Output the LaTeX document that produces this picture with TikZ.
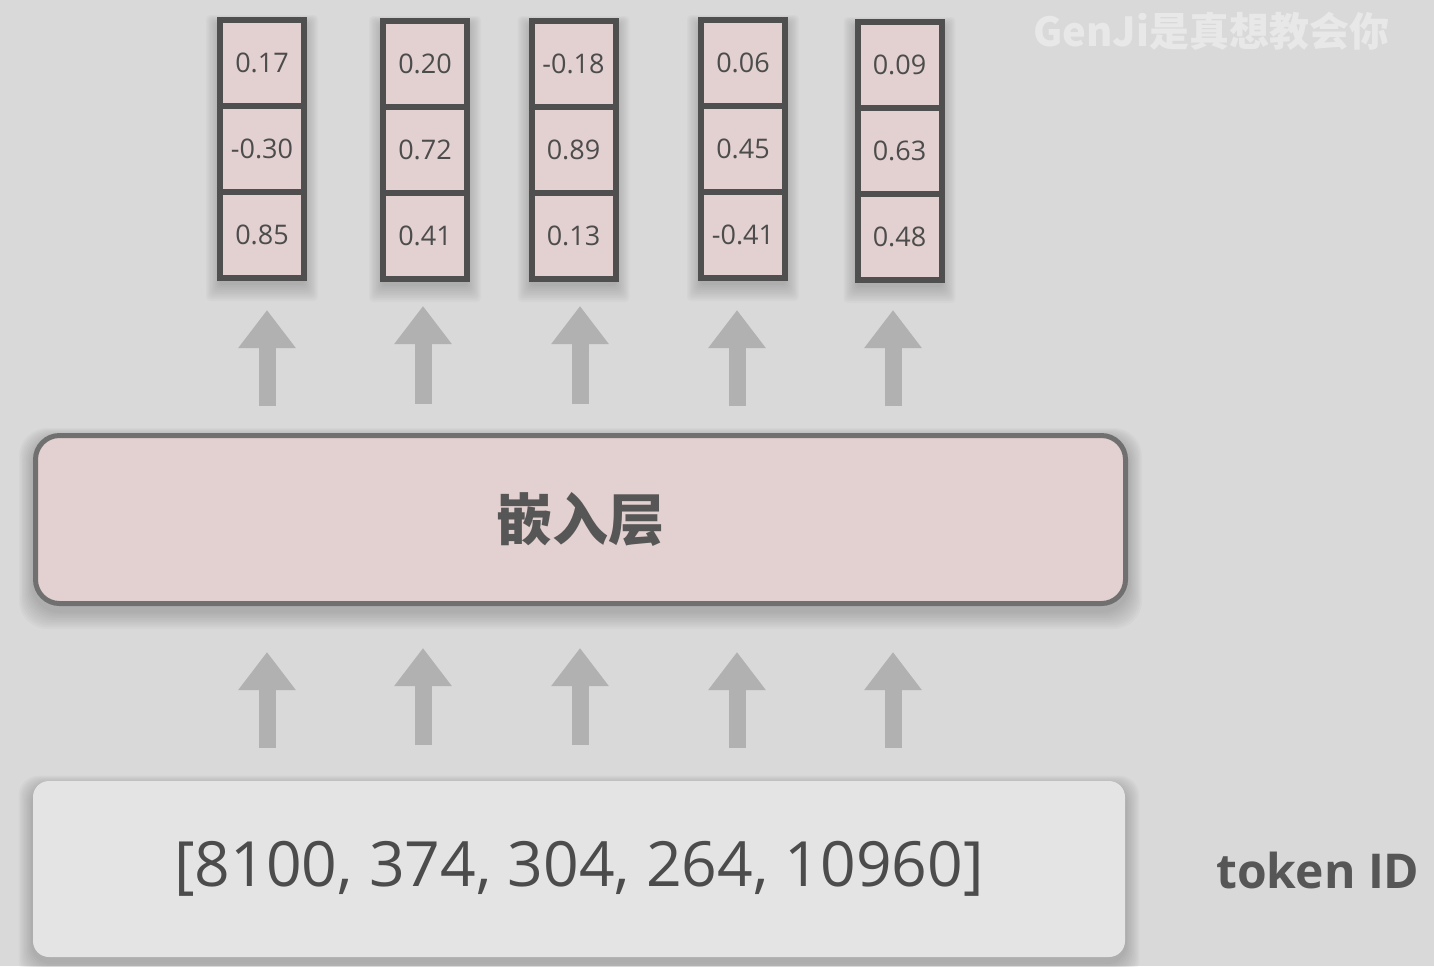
\documentclass[tikz,border=0pt]{standalone}
\usepackage{fontspec}
\setmainfont{Open Sans}
\newfontfamily\cjk{Noto Sans CJK SC}
\newfontfamily\medfont{Open Sans}
\usetikzlibrary{arrows.meta}
\pgfdeclarelayer{bottom}
\pgfdeclarelayer{shade}
\pgfsetlayers{bottom,shade,main}
\definecolor{bg}{HTML}{D9D9D9}
\definecolor{pinkfill}{HTML}{E3D0D0}
\definecolor{vborder}{HTML}{4F4F4F}
\definecolor{embborder}{HTML}{707070}
\definecolor{txt}{HTML}{565656}
\definecolor{numtxt}{HTML}{4C4C4C}
\definecolor{arrowgray}{HTML}{B1B1B1}
\definecolor{idfill}{HTML}{E4E4E4}
\definecolor{wm}{HTML}{E8E8E8}
\newcommand{\mysoftshadow}[3]{% nw anchor, se anchor, corner radius
  \foreach \k in {1,...,10}{
    \fill[black, opacity=0.02, rounded corners=#3]
      ([xshift=-\k*0.7pt, yshift=-2.5pt+\k*0.5pt]#1) rectangle
      ([xshift=\k*0.7pt, yshift=-2.5pt-\k*0.9pt]#2);
  }}
\begin{document}
\begin{tikzpicture}[x=0.5pt,y=-0.5pt,
  cell/.style={draw=vborder, line width=3pt, fill=pinkfill, minimum width=42pt,
    minimum height=43pt, inner sep=0pt, outer sep=0pt, text=numtxt,
    font=\medfont\fontsize{13.5}{16}\selectfont},
  embbox/.style={draw=embborder, line width=2.5pt, fill=pinkfill, rounded corners=12pt,
    minimum width=545pt, minimum height=84pt, inner sep=0pt, text=txt,
    font=\cjk\bfseries\fontsize{28}{32}\selectfont},
  idbox/.style={fill=idfill, rounded corners=8pt, minimum width=546pt, minimum height=88pt,
    inner sep=0pt, text=numtxt, font=\medfont\fontsize{31.2}{36}\selectfont},
  uparrow/.style={draw=arrowgray, line width=8.5pt, -{Triangle[length=19pt,width=27.5pt]}},
  label/.style={text=txt, font=\bfseries\fontsize{24}{28}\selectfont, inner sep=0pt},
  watermark/.style={text=wm, font=\cjk\bfseries\fontsize{20}{24}\selectfont, inner sep=0pt}
]
% background
\begin{pgfonlayer}{bottom}
\fill[bg] (0,0) rectangle (1434,966);
\end{pgfonlayer}
\useasboundingbox (0,0) rectangle (1434,966);

% watermark
\node[watermark, anchor=west] (wmark) at (1033,31) {GenJi是真想教会你};

% vectors
\node[cell] (v1a) at (262,63) {0.17};
\node[cell] (v1b) at (262,149) {-0.30};
\node[cell] (v1c) at (262,235) {0.85};

\node[cell] (v2a) at (425,64) {0.20};
\node[cell] (v2b) at (425,150) {0.72};
\node[cell] (v2c) at (425,236) {0.41};

\node[cell] (v3a) at (573.5,64) {-0.18};
\node[cell] (v3b) at (573.5,150) {0.89};
\node[cell] (v3c) at (573.5,236) {0.13};

\node[cell] (v4a) at (743,63) {0.06};
\node[cell] (v4b) at (743,149) {0.45};
\node[cell] (v4c) at (743,235) {-0.41};

\node[cell] (v5a) at (899.5,65) {0.09};
\node[cell] (v5b) at (899.5,151) {0.63};
\node[cell] (v5c) at (899.5,237) {0.48};

% embedding layer
\node[embbox] (emb) at (580.5,519.5) {嵌入层};

% token id box
\node[idbox] (ids) at (579,869) {[8100, 374, 304, 264, 10960]};
\node[label, anchor=west] (tokid) at (1216,870) {token ID};

% shadows
\begin{pgfonlayer}{shade}
\foreach \c in {1,...,5}{
  \mysoftshadow{v\c a.north west}{v\c c.south east}{2pt}
}
\mysoftshadow{emb.north west}{emb.south east}{14pt}
\mysoftshadow{ids.north west}{ids.south east}{10pt}
\end{pgfonlayer}

% arrow endpoints
\coordinate (u1s) at (267,406); \coordinate (u1e) at (267,310);
\coordinate (u2s) at (423,404); \coordinate (u2e) at (423,306);
\coordinate (u3s) at (580,404); \coordinate (u3e) at (580,306);
\coordinate (u4s) at (737,406); \coordinate (u4e) at (737,310);
\coordinate (u5s) at (893,406); \coordinate (u5e) at (893,310);

\coordinate (l1s) at (267,748); \coordinate (l1e) at (267,652);
\coordinate (l2s) at (423,745); \coordinate (l2e) at (423,648);
\coordinate (l3s) at (580,745); \coordinate (l3e) at (580,648);
\coordinate (l4s) at (737,748); \coordinate (l4e) at (737,652);
\coordinate (l5s) at (893,748); \coordinate (l5e) at (893,652);

\foreach \i in {1,...,5}{
  \draw[uparrow] (u\i s) -- (u\i e);
  \draw[uparrow] (l\i s) -- (l\i e);
}
\end{tikzpicture}
\end{document}
